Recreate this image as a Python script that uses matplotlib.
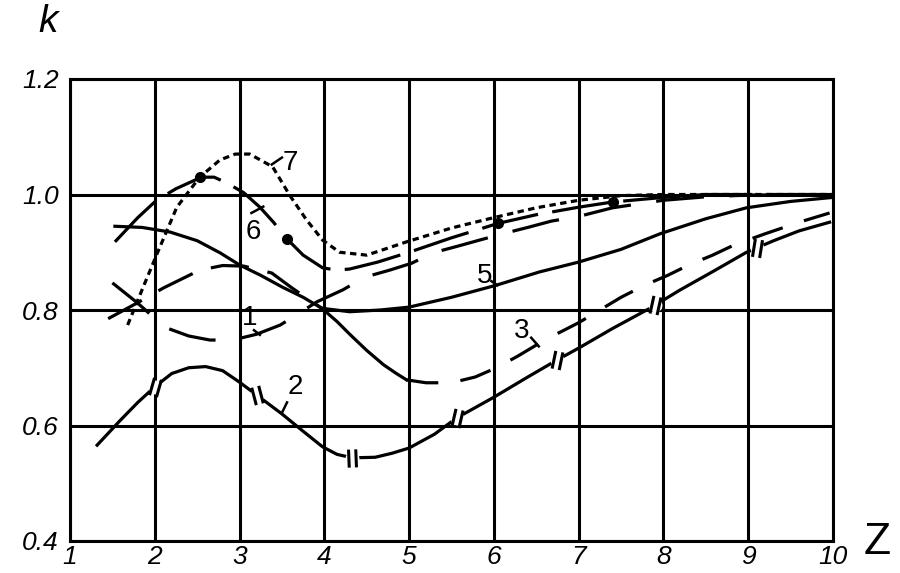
import numpy as np
import matplotlib
matplotlib.use("Agg")
import matplotlib.pyplot as plt
from matplotlib.path import Path
from matplotlib.markers import MarkerStyle
from matplotlib.transforms import Affine2D

# ---------------- data ----------------
x_ticks = [1, 2, 3, 4, 5, 6, 7, 8, 9, 10]
x_tick_labels = ["1", "2", "3", "4", "5", "6", "7", "8", "9", "10"]
y_ticks = [0.4, 0.6, 0.8, 1.0, 1.2]
y_tick_labels = ["0.4", "0.6", "0.8", "1.0", "1.2"]

# curve 1 (long dashes)
c1_x = [1.5, 1.79, 2.12, 2.4, 2.65, 2.92, 3.2, 3.48, 3.71, 3.91, 4.22, 4.48, 4.77,
        5.03, 5.28, 5.56, 5.83, 6.13, 6.4, 6.68, 7.0, 7.4, 8.0, 8.5, 9.0, 10.0]
c1_y = [0.847, 0.813, 0.77, 0.755, 0.748, 0.748, 0.758, 0.774, 0.795, 0.814, 0.835,
        0.857, 0.869, 0.881, 0.899, 0.91, 0.921, 0.933, 0.943, 0.954, 0.962, 0.977,
        0.99, 0.996, 0.999, 1.0]

# curve 2 (solid with double-bar marks)
c2_x = [1.32, 1.6, 1.8, 2.0, 2.2, 2.4, 2.6, 2.8, 3.0, 3.2, 3.5, 3.75, 3.98, 4.15,
        4.33, 4.6, 4.8, 5.0, 5.3, 5.56, 6.0, 6.4, 6.74, 7.0, 7.4, 7.84, 8.2, 8.6,
        8.98, 9.3, 9.6, 9.96]
c2_y = [0.566, 0.61, 0.64, 0.667, 0.69, 0.70, 0.702, 0.695, 0.675, 0.653, 0.62,
        0.59, 0.563, 0.55, 0.544, 0.545, 0.552, 0.561, 0.585, 0.613, 0.649, 0.684,
        0.713, 0.734, 0.768, 0.803, 0.835, 0.868, 0.90, 0.92, 0.937, 0.952]
c2_marks_x = [2.0, 3.2, 4.33, 5.56, 6.74, 7.9, 9.1]

# curve 3 (solid part, then dashed)
c3a_x = [1.53, 1.85, 2.18, 2.5, 2.77, 3.0, 3.25, 3.5, 3.75, 3.97, 4.15, 4.3, 4.5,
         4.7, 4.85, 4.97]
c3a_y = [0.945, 0.943, 0.935, 0.92, 0.899, 0.878, 0.86, 0.84, 0.822, 0.803, 0.78,
         0.758, 0.73, 0.705, 0.69, 0.679]
c3b_x = [4.97, 5.2, 5.5, 5.78, 6.03, 6.28, 6.6, 7.0, 7.25, 7.5, 7.78, 8.05, 8.3,
         8.58, 8.84, 9.2, 9.6, 9.96]
c3b_y = [0.679, 0.674, 0.674, 0.684, 0.70, 0.72, 0.748, 0.778, 0.80, 0.822, 0.843,
         0.86, 0.878, 0.895, 0.913, 0.932, 0.952, 0.968]

# curve 5 (dashed part, then solid)
c5a_x = [1.45, 1.79, 2.1, 2.53, 2.8, 3.05, 3.38, 3.62, 3.97]
c5a_y = [0.785, 0.812, 0.838, 0.869, 0.877, 0.876, 0.864, 0.838, 0.803]
c5b_x = [3.97, 4.3, 4.66, 5.0, 5.5, 6.03, 6.54, 7.0, 7.5, 7.96, 8.5, 8.98, 9.5, 10.0]
c5b_y = [0.803, 0.797, 0.80, 0.805, 0.822, 0.843, 0.866, 0.883, 0.905, 0.932,
         0.958, 0.977, 0.988, 0.995]

# curve 6 (long dash with dots)
c6_x = [1.53, 1.8, 2.02, 2.25, 2.4, 2.55, 2.7, 2.85, 3.05, 3.24, 3.4, 3.56, 3.75,
        3.98, 4.15, 4.3, 4.63, 5.0, 5.5, 6.05, 6.5, 7.0, 7.4, 8.0, 8.5, 9.0, 10.0]
c6_y = [0.918, 0.96, 0.99, 1.01, 1.02, 1.03, 1.03, 1.02, 1.003, 0.978, 0.952, 0.923,
        0.895, 0.873, 0.869, 0.871, 0.883, 0.90, 0.925, 0.95, 0.965, 0.978, 0.987,
        0.995, 1.0, 1.0, 1.0]
c6_dots_x = [2.53, 3.56, 6.05, 7.4]
c6_dots_y = [1.03, 0.923, 0.95, 0.987]

# curve 7 (short dashes)
c7_x = [1.68, 1.85, 2.02, 2.26, 2.53, 2.77, 2.95, 3.12, 3.39, 3.59, 3.79, 3.98, 4.18,
        4.5, 4.97, 5.5, 6.0, 6.5, 7.0, 7.5, 8.0, 9.0, 10.0]
c7_y = [0.774, 0.835, 0.895, 0.978, 1.03, 1.06, 1.07, 1.07, 1.048, 0.999, 0.956,
        0.921, 0.90, 0.895, 0.918, 0.942, 0.96, 0.977, 0.99, 0.998, 1.0, 1.0, 1.0]

# curve labels: text, position, leader line
lab_text = ["7", "6", "1", "2", "5", "3"]
lab_x = [3.6, 3.16, 3.12, 3.66, 5.89, 6.33]
lab_y = [1.055, 0.935, 0.787, 0.667, 0.859, 0.764]
lead_x0 = [3.38, 3.14, 3.17, 3.50, 5.97, 6.44]
lead_y0 = [1.052, 0.968, 0.765, 0.622, 0.850, 0.752]
lead_x1 = [3.50, 3.28, 3.24, 3.56, 6.04, 6.53]
lead_y1 = [1.064, 0.979, 0.757, 0.640, 0.843, 0.737]

# ---------------- figure ----------------
W, H = 900, 573
fig = plt.figure(figsize=(W / 100, H / 100), dpi=100)
L, R, T, B = 70, 833, 79, 541
ax = fig.add_axes([L / W, 1 - B / H, (R - L) / W, (B - T) / H])
ax.set_xlim(1, 10)
ax.set_ylim(0.4, 1.2)

FONT = "Liberation Sans"
ax.set_xticks(x_ticks)
ax.set_xticklabels(x_tick_labels, fontsize=19, fontstyle="italic", family=FONT)
ax.set_yticks(y_ticks)
ax.set_yticklabels(y_tick_labels, fontsize=19, fontstyle="italic", family=FONT)
ax.tick_params(length=0, pad=8)
ax.tick_params(axis="x", pad=3)
ax.grid(True, color="black", lw=2.2)
ax.set_axisbelow(True)
for s in ax.spines.values():
    s.set_linewidth(2.2)
    s.set_color("black")

LW = 2.3
ax.plot(c1_x, c1_y, color="black", lw=LW, dashes=(15, 8), zorder=3)
ax.plot(c3a_x, c3a_y, color="black", lw=LW, zorder=3)
ax.plot(c3b_x, c3b_y, color="black", lw=LW, dashes=(10, 7), zorder=3)
ax.plot(c5a_x, c5a_y, color="black", lw=LW, dashes=(12, 6), zorder=3)
ax.plot(c5b_x, c5b_y, color="black", lw=LW, zorder=3)
ax.plot(c6_x, c6_y, color="black", lw=LW, dashes=(18, 4.5), zorder=3)
ax.plot(c6_dots_x, c6_dots_y, "o", color="black", ms=7, zorder=4)
ax.plot(c7_x, c7_y, color="black", lw=LW, dashes=(2.0, 1.4), zorder=3)
ax.plot(c2_x, c2_y, color="black", lw=LW, zorder=3)

# double-bar marks on curve 2
fig.canvas.draw()
mark_y = np.interp(c2_marks_x, c2_x, c2_y)
bars = Path([(-0.4, -1), (-0.4, 1), (0.4, -1), (0.4, 1)],
            [Path.MOVETO, Path.LINETO, Path.MOVETO, Path.LINETO])
for mx, my in zip(c2_marks_x, mark_y):
    p0 = ax.transData.transform((mx - 0.05, np.interp(mx - 0.05, c2_x, c2_y)))
    p1 = ax.transData.transform((mx + 0.05, np.interp(mx + 0.05, c2_x, c2_y)))
    theta = np.degrees(np.arctan2(p1[1] - p0[1], p1[0] - p0[0]))
    ax.plot([mx], [my], "o", color="white", ms=10, mec="none", zorder=4)
    m = MarkerStyle(bars, transform=Affine2D().rotate_deg(-0.4 * theta))
    ax.plot([mx], [my], marker=m, color="black", ms=13, mew=2.2,
            linestyle="none", zorder=5)

for t, x, y, a0, b0, a1, b1 in zip(lab_text, lab_x, lab_y, lead_x0, lead_y0,
                                    lead_x1, lead_y1):
    ax.text(x, y, t, fontsize=20, family=FONT, ha="center", va="center", zorder=6)
    ax.plot([a0, a1], [b0, b1], color="black", lw=1.8, zorder=6)

fig.text(48 / W, 1 - 22 / H, "k", fontsize=28, fontstyle="italic", family=FONT,
         ha="center", va="center")
fig.text(877 / W, 1 - 543 / H, "Z", fontsize=32, family=FONT,
         ha="center", va="center")

fig.savefig("out.png", dpi=100)
